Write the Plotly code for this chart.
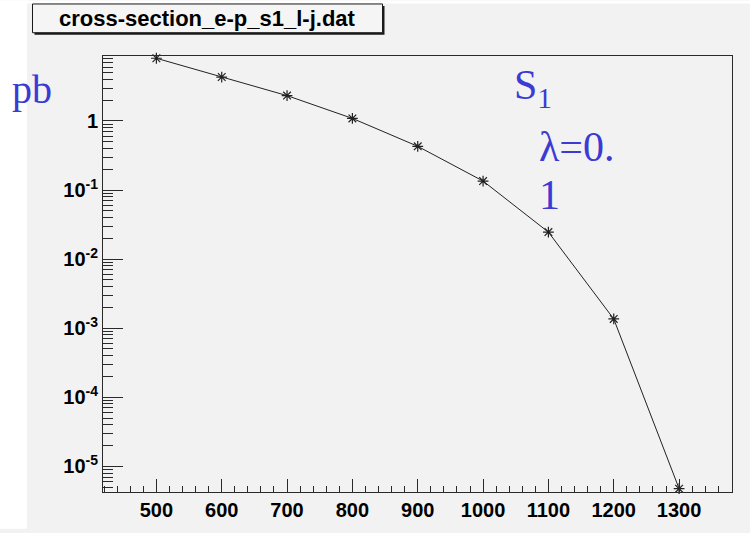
import plotly.graph_objects as go

# Cross-section vs. mass, e-p scattering, scalar leptoquark S1, lambda = 0.1
mass = [500, 600, 700, 800, 900, 1000, 1100, 1200, 1300]
xsec_pb = [8.1, 4.33, 2.33, 1.09, 0.43, 0.135, 0.0246, 1.36e-3, 4.75e-6]

y_tickvals = [1, 1e-1, 1e-2, 1e-3, 1e-4, 1e-5]
y_ticktext = ["1", "10<sup>-1</sup>", "10<sup>-2</sup>", "10<sup>-3</sup>",
              "10<sup>-4</sup>", "10<sup>-5</sup>"]

title_text = "cross-section_e-p_s1_l-j.dat"
unit_text = "pb"
model_text = "S<sub>1</sub>"
coupling_line1 = "λ=0."
coupling_line2 = "1"

W, H = 750, 533
ML, MR, MT, MB = 103, 18, 56, 37
PW, PH = W - ML - MR, H - MT - MB

BG = "#f2f2f2"
BLUE = "#3b3bd4"
FRAME = "#2a2a2a"


def px_x(px):
    return (px - ML) / PW


def px_y(py):
    return 1 - (py - MT) / PH


fig = go.Figure()
fig.add_trace(go.Scatter(
    x=mass, y=xsec_pb, mode="lines+markers",
    line=dict(color="#222222", width=1),
    marker=dict(symbol="asterisk-open", size=9,
                line=dict(color="#000000", width=1.2)),
    showlegend=False, cliponaxis=False,
))

tick_font = dict(family="Liberation Sans", size=20, color="#000000", weight="bold")

fig.update_xaxes(
    range=[418.3, 1381], tick0=500, dtick=100,
    ticks="inside", ticklen=13, tickcolor=FRAME, tickwidth=1,
    minor=dict(ticks="inside", ticklen=6, dtick=20, tickcolor=FRAME, tickwidth=1),
    showline=True, linecolor=FRAME, linewidth=1, mirror=True,
    showgrid=False, zeroline=False, tickfont=tick_font,
)
fig.update_yaxes(
    type="log", range=[-5.372, 0.941],
    tickvals=y_tickvals, ticktext=y_ticktext,
    ticks="inside", ticklen=20, tickcolor=FRAME, tickwidth=1,
    minor=dict(ticks="inside", ticklen=10, dtick="D1", tickcolor=FRAME, tickwidth=1),
    showline=True, linecolor=FRAME, linewidth=1, mirror=True,
    showgrid=False, zeroline=False, tickfont=tick_font,
)

shapes = [
    # white strips around the canvas
    dict(type="rect", xref="paper", yref="paper", layer="below",
         x0=px_x(0), x1=px_x(27), y0=px_y(H), y1=px_y(0),
         fillcolor="white", line=dict(width=0)),
    dict(type="rect", xref="paper", yref="paper", layer="below",
         x0=px_x(0), x1=px_x(W), y0=px_y(3), y1=px_y(0),
         fillcolor="white", line=dict(width=0)),
    # title box shadow and box
    dict(type="rect", xref="paper", yref="paper",
         x0=px_x(34.5), x1=px_x(384.5), y0=px_y(34.5), y1=px_y(5.5),
         fillcolor="#1a1a1a", line=dict(width=0)),
    dict(type="rect", xref="paper", yref="paper",
         x0=px_x(32.5), x1=px_x(382.5), y0=px_y(32.5), y1=px_y(3.5),
         fillcolor="#f5f5f5", line=dict(color="#1a1a1a", width=1)),
]

serif = "Liberation Serif"
annotations = [
    dict(text=title_text, xref="paper", yref="paper",
         x=px_x(207), y=px_y(18), xanchor="center", yanchor="middle",
         showarrow=False,
         font=dict(family="Liberation Sans", size=22, color="#000000", weight="bold")),
    dict(text=unit_text, xref="paper", yref="paper",
         x=px_x(10), y=px_y(90), xanchor="left", yanchor="middle",
         showarrow=False, font=dict(family=serif, size=40, color=BLUE)),
    dict(text=model_text, xref="paper", yref="paper",
         x=px_x(512), y=px_y(88), xanchor="left", yanchor="middle",
         showarrow=False, font=dict(family=serif, size=42, color=BLUE)),
    dict(text=coupling_line1, xref="paper", yref="paper",
         x=px_x(537), y=px_y(148), xanchor="left", yanchor="middle",
         showarrow=False, font=dict(family=serif, size=42, color=BLUE)),
    dict(text=coupling_line2, xref="paper", yref="paper",
         x=px_x(537), y=px_y(196), xanchor="left", yanchor="middle",
         showarrow=False, font=dict(family=serif, size=42, color=BLUE)),
]

fig.update_layout(
    width=W, height=H,
    margin=dict(l=ML, r=MR, t=MT, b=MB, pad=0),
    paper_bgcolor=BG, plot_bgcolor=BG,
    shapes=shapes, annotations=annotations,
    showlegend=False,
)

fig.write_html("out.html")
